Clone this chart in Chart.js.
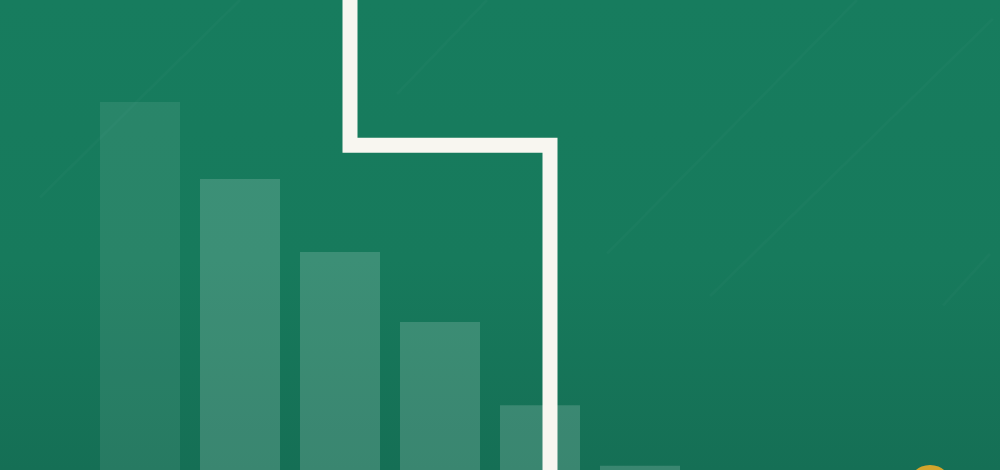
<!DOCTYPE html>
<html>
<head>
<meta charset="utf-8">
<script src="https://cdn.jsdelivr.net/npm/chart.js@4.4.1/dist/chart.umd.min.js"></script>
<style>
    html, body {
        margin: 0;
        padding: 0;
        width: 1000px;
        height: 470px;
        overflow: hidden;
        background: linear-gradient(180deg, #177c5e 0%, #177a5c 55%, #156f55 100%);
    }
    #wrap {
        position: relative;
        width: 1000px;
        height: 470px;
    }
</style>
</head>
<body>
<div id="wrap"><canvas id="chart"></canvas></div>
<script>
// Bar data (x positions on a 0-10 axis, heights on a 0-100 axis)
const barX = [1.4, 2.4, 3.4, 4.4, 5.4, 6.4];
const barValues = [78.3, 61.9, 46.4, 31.5, 13.8, 0.9];
const barAlpha = [0.08, 0.16, 0.16, 0.16, 0.16, 0.16];

// Step line path
const stepX = [3.5, 3.5, 5.5, 5.5];
const stepY = [106, 69.1, 69.1, -6];

// Gold marker peeking in at the bottom right
const markerX = [9.3];
const markerY = [-3.6];

// Faint diagonal streaks in the background (fractions of the chart area)
const streaks = [
    [0.24, 0.0, 0.04, 0.42],
    [0.487, 0.0, 0.397, 0.2],
    [0.857, 0.0, 0.607, 0.54],
    [0.993, 0.04, 0.71, 0.63],
    [0.99, 0.54, 0.943, 0.65]
];

const streakPlugin = {
    id: 'streaks',
    beforeDatasetsDraw(chart) {
        const { ctx, chartArea: a } = chart;
        const w = a.right - a.left, h = a.bottom - a.top;
        ctx.save();
        ctx.strokeStyle = 'rgba(255, 255, 255, 0.018)';
        ctx.lineWidth = 3;
        streaks.forEach(s => {
            ctx.beginPath();
            ctx.moveTo(a.left + s[0] * w, a.top + s[1] * h);
            ctx.lineTo(a.left + s[2] * w, a.top + s[3] * h);
            ctx.stroke();
        });
        ctx.restore();
    }
};

const ctx = document.getElementById('chart').getContext('2d');

new Chart(ctx, {
    type: 'bar',
    data: {
        datasets: [
            {
                type: 'line',
                data: stepX.map((x, i) => ({ x, y: stepY[i] })),
                borderColor: '#f8f6f0',
                borderWidth: 15,
                borderJoinStyle: 'miter',
                borderCapStyle: 'butt',
                pointRadius: 0,
                tension: 0,
                fill: false,
                clip: false,
                order: 0
            },
            {
                type: 'scatter',
                data: markerX.map((x, i) => ({ x, y: markerY[i] })),
                backgroundColor: '#d3a52c',
                borderWidth: 0,
                pointRadius: 22,
                clip: false,
                order: 1
            },
            {
                data: barX.map((x, i) => ({ x, y: barValues[i] })),
                backgroundColor: barAlpha.map(a => `rgba(255, 255, 255, ${a})`),
                borderWidth: 0,
                barPercentage: 0.8,
                categoryPercentage: 1,
                order: 2
            }
        ]
    },
    options: {
        responsive: true,
        maintainAspectRatio: false,
        animation: false,
        layout: { padding: 0, autoPadding: false },
        plugins: {
            legend: { display: false },
            tooltip: { enabled: false }
        },
        scales: {
            x: {
                type: 'linear',
                min: 0,
                max: 10,
                offset: false,
                display: false
            },
            y: {
                type: 'linear',
                min: 0,
                max: 100,
                display: false
            }
        }
    },
    plugins: [streakPlugin]
});
</script>
</body>
</html>
